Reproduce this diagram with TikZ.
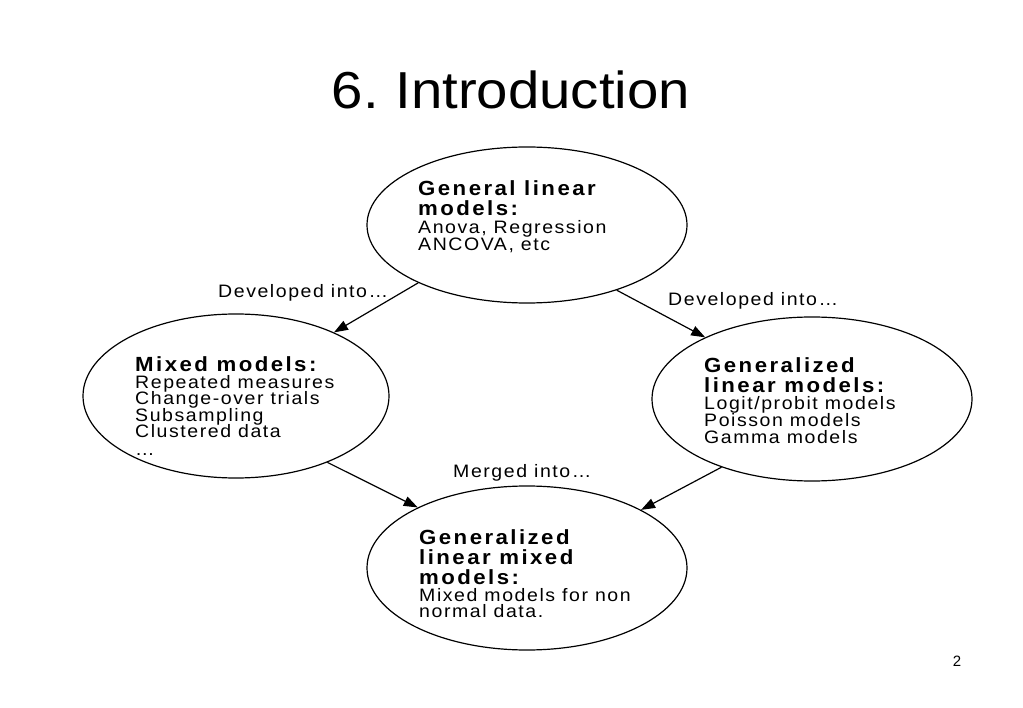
\documentclass[tikz,border=0pt]{standalone}
\usepackage{fontspec}
\setmainfont{Liberation Sans}
\newfontfamily\bodyfont{Liberation Sans}[LetterSpace=8]
\newfontfamily\headfont{Liberation Sans}[LetterSpace=11]
\usetikzlibrary{arrows.meta,shapes.geometric}
\tikzset{
  ell/.style={draw, ellipse, line width=1.2pt, inner sep=0pt},
  bt/.style={font=\headfont\bfseries\fontsize{20.5}{21}\selectfont, anchor=base west, inner sep=0pt, xscale=1.084, text height=14.5pt, text depth=1pt},
  rt/.style={font=\bodyfont\fontsize{18}{19}\selectfont, anchor=base west, inner sep=0pt, xscale=1.084, text height=12.5pt, text depth=3pt},
  conn/.style={-{Triangle[length=14pt,width=10pt]}, line width=1.2pt},
}
\begin{document}
\begin{tikzpicture}[x=1pt,y=-1pt]
\useasboundingbox (0,0) rectangle (1023,708);
\node[font=\fontsize{52}{56}\selectfont, anchor=base, inner sep=0pt, xscale=1.084] (title) at (511,109) {6.\kern-4pt{} Introduction};

\node[ell, minimum width=320pt, minimum height=156pt] (top) at (527,225) {};
\node[ell, minimum width=306pt, minimum height=164pt] (left) at (236,396) {};
\node[ell, minimum width=320pt, minimum height=164pt] (right) at (812,399) {};
\node[ell, minimum width=320pt, minimum height=164pt] (bottom) at (527,568) {};

\node[bt] (t1) at (418,196) {General linear};
\node[bt] (t2) at (418,216) {models:};
\node[rt] (t3) at (418,234) {Anova, Regression};
\node[rt] (t4) at (418,251) {ANCOVA, etc};

\node[bt] (l1) at (135,372) {Mixed models:};
\node[rt] (l2) at (135,389) {Repeated measures};
\node[rt] (l3) at (135,405) {Change-over trials};
\node[rt] (l4) at (135,422) {Subsampling};
\node[rt] (l5) at (135,438) {Clustered data};
\node[rt] (l6) at (135,455) {…};

\node[bt] (r1) at (704,373) {Generalized};
\node[bt] (r2) at (704,393) {linear models:};
\node[rt] (r3) at (704,410) {Logit/probit models};
\node[rt] (r4) at (704,427) {Poisson models};
\node[rt] (r5) at (704,443) {Gamma models};

\node[bt] (b1) at (419,544) {Generalized};
\node[bt] (b2) at (419,564) {linear mixed};
\node[bt] (b3) at (419,584) {models:};
\node[rt] (b4) at (419,601) {Mixed models for non};
\node[rt] (b5) at (419,617) {normal data.};

\node[rt] (lab1) at (218,298) {Developed into…};
\node[rt] (lab2) at (668,306) {Developed into…};
\node[rt] (lab3) at (453,477) {Merged into…};

\node[font=\fontsize{15}{17}\selectfont, inner sep=0pt] (page) at (957,661) {2};

\draw[conn] (top.208) -- (left.33);
\draw[conn] (top.324) -- (right.150);
\draw[conn] (left.324) -- (bottom.151);
\draw[conn] (right.217) -- (bottom.27);
\end{tikzpicture}
\end{document}
